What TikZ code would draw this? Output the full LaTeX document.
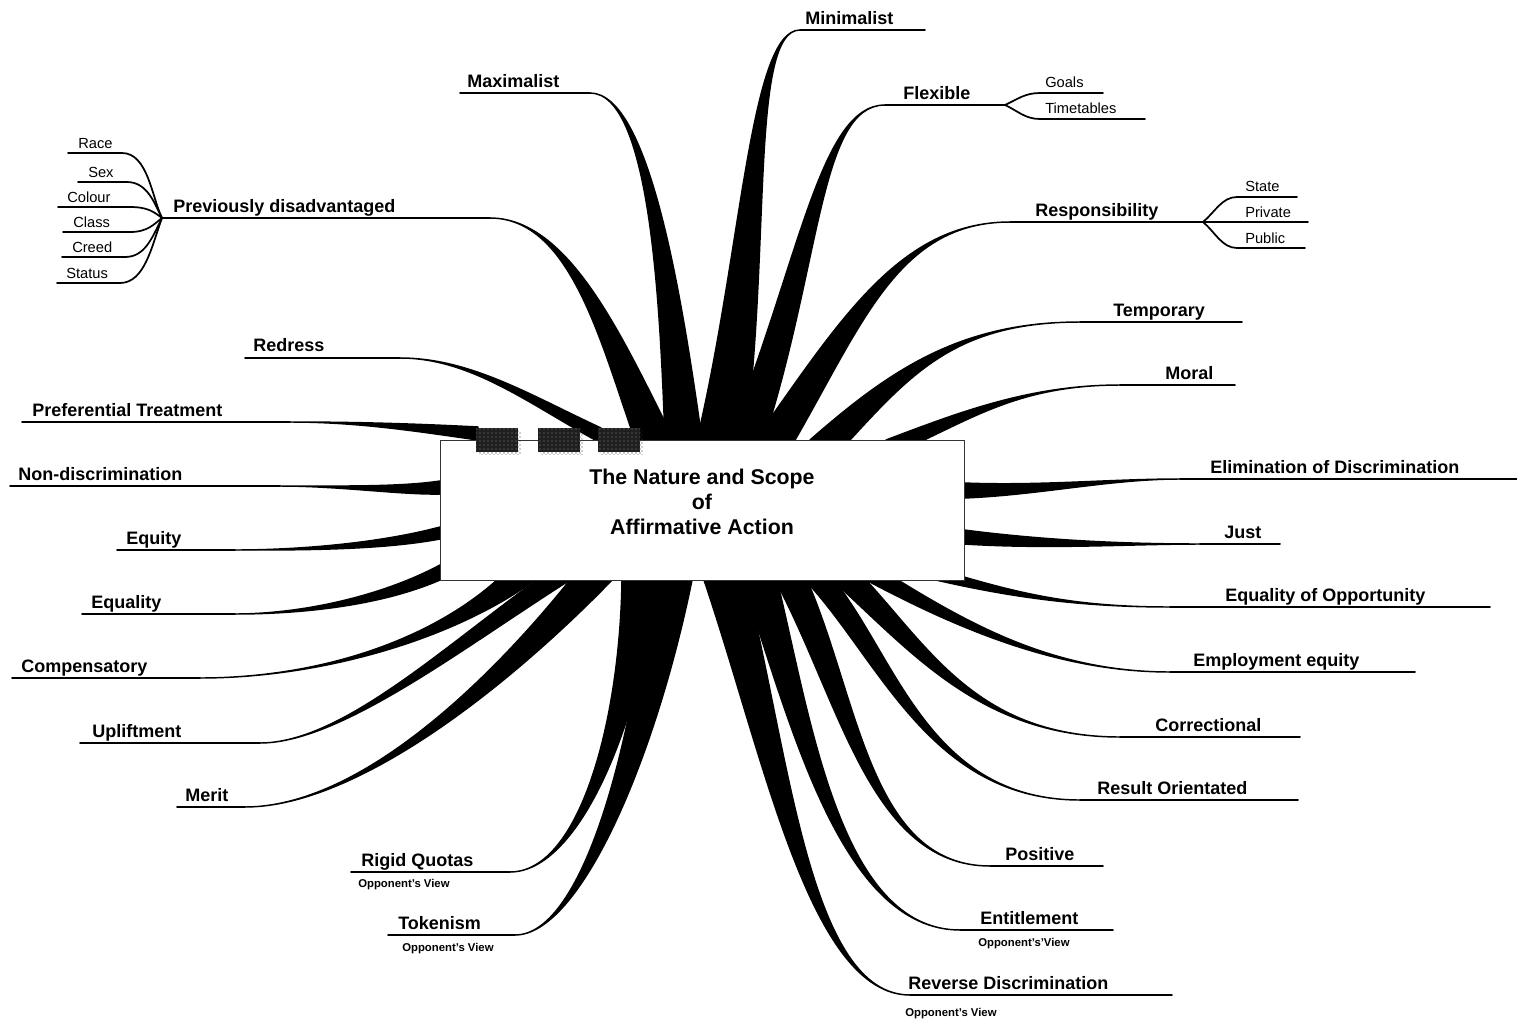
\documentclass[tikz,border=0pt]{standalone}
\usepackage{fontspec}
\setmainfont{Liberation Sans}
\usetikzlibrary{calc,patterns,shadows}

\tikzset{
  limb/.style={fill=black, draw=black, line width=1.1pt, line join=round},
  labelrule/.style={line width=1.4pt, line cap=round},
  twig/.style={line width=1.3pt, line cap=round},
  lab/.style={inner sep=0pt, anchor=base west, font=\bfseries\fontsize{13.5}{16}\selectfont},
  sublab/.style={inner sep=0pt, anchor=base west, font=\fontsize{11}{13}\selectfont},
  note/.style={inner sep=0pt, anchor=base west, font=\bfseries\fontsize{8.5}{10}\selectfont},
  tabbox/.style={fill=black!88, minimum width=31.5pt, minimum height=18pt, inner sep=0pt,
    postaction={pattern=dots, pattern color=black!45},
    drop shadow={shadow xshift=2.2pt, shadow yshift=-2.2pt, opacity=1, fill=none,
      pattern=crosshatch dots, pattern color=black!80}},
}

% tapered branch: name, base point 1, base point 2, control 1, control 2, tip, end of label rule
\newcommand\branch[7]{%
  \coordinate (#1-b1) at #2;
  \coordinate (#1-b2) at #3;
  \coordinate (#1-c1) at #4;
  \coordinate (#1-c2) at #5;
  \coordinate (#1-t) at #6;
  \coordinate (#1-e) at #7;
  \filldraw[limb] (#1-b1) .. controls (#1-c1) and (#1-c2) .. (#1-t)
     .. controls (#1-c2) and ($(#1-c1)+0.6*(#1-b2)-0.6*(#1-b1)$) .. (#1-b2) -- cycle;
  \draw[labelrule] (#1-t) -- (#1-e);
}

\begin{document}
\begin{tikzpicture}[x=0.75pt,y=-0.75pt]
\useasboundingbox (0,0) rectangle (1517,1021);
\fill[white] (0,0) rectangle (1517,1021);

% upper fan
\branch{prev}{(635,440)}{(674,440)}{(600,340)}{(570,218)}{(490,218)}{(162,218)}
\branch{maxi}{(665,440)}{(702,440)}{(660,300)}{(650,93)}{(590,93)}{(460,93)}
\branch{mini}{(697,440)}{(745,440)}{(742,250)}{(750,30)}{(800,30)}{(925,30)}
\branch{flex}{(728,440)}{(764,440)}{(800,260)}{(820,105)}{(885,105)}{(1005,105)}
\branch{resp}{(755,440)}{(795,440)}{(840,320)}{(900,222)}{(1010,222)}{(1203,222)}
\branch{temp}{(810,440)}{(850,440)}{(890,370)}{(960,322)}{(1080,322)}{(1242,322)}
\branch{moral}{(886,440)}{(924,440)}{(960,412)}{(1030,385)}{(1120,385)}{(1235,385)}

% left fan
\branch{redr}{(601,428)}{(597,441)}{(530,395)}{(470,358)}{(400,358)}{(245,358)}
\branch{pref}{(478,427)}{(478,440)}{(420,424)}{(360,422)}{(290,422)}{(22,422)}
\branch{nond}{(440,481)}{(440,494)}{(400,487)}{(340,486)}{(280,486)}{(10,486)}
\branch{eqty}{(440,527)}{(440,539)}{(380,543)}{(300,550)}{(235,550)}{(117,550)}
\branch{eqlt}{(440,565)}{(440,580)}{(380,597)}{(300,614)}{(235,614)}{(82,614)}

% lower left fan
\branch{comp}{(497,580)}{(535,580)}{(430,640)}{(320,678)}{(200,678)}{(12,678)}
\branch{upli}{(537,580)}{(570,580)}{(440,650)}{(340,743)}{(260,743)}{(80,743)}
\branch{meri}{(570,580)}{(612,580)}{(490,680)}{(360,807)}{(245,807)}{(177,807)}
\branch{rigq}{(622,580)}{(657,580)}{(620,720)}{(580,872)}{(510,872)}{(351,872)}
\branch{toke}{(650,580)}{(692,580)}{(630,760)}{(580,935)}{(515,935)}{(388,935)}

% lower right fan
\branch{reve}{(704,580)}{(746,580)}{(765,760)}{(810,995)}{(910,995)}{(1172,995)}
\branch{enti}{(742,580)}{(777,580)}{(790,720)}{(840,930)}{(960,930)}{(1113,930)}
\branch{posi}{(775,580)}{(807,580)}{(840,700)}{(870,866)}{(990,866)}{(1103,866)}
\branch{resu}{(805,580)}{(834,580)}{(880,660)}{(930,800)}{(1080,800)}{(1298,800)}
\branch{corr}{(832,580)}{(866,580)}{(910,650)}{(980,737)}{(1120,737)}{(1300,737)}
\branch{empl}{(866,580)}{(898,580)}{(960,630)}{(1060,672)}{(1170,672)}{(1415,672)}
\branch{eopp}{(936,580)}{(964,577)}{(1010,597)}{(1080,607)}{(1170,607)}{(1490,607)}

% right fan
\branch{elim}{(964,483)}{(964,498)}{(1040,486)}{(1110,479)}{(1180,479)}{(1517,479)}
\branch{just}{(964,530)}{(964,544)}{(1050,541)}{(1130,544)}{(1200,544)}{(1280,544)}

% sub-branches of "Previously disadvantaged"
\coordinate (race) at (68,153);
\coordinate (sex) at (78,182);
\coordinate (colour) at (58,207);
\coordinate (class) at (63,232);
\coordinate (creed) at (62,257);
\coordinate (status) at (57,283);
\draw[twig] (prev-e) .. controls (152,198) and (148,153) .. (122,153) -- (race);
\draw[twig] (prev-e) .. controls (155,205) and (148,182) .. (127,182) -- (sex);
\draw[twig] (prev-e) .. controls (154,212) and (148,207) .. (130,207) -- (colour);
\draw[twig] (prev-e) .. controls (154,224) and (148,232) .. (130,232) -- (class);
\draw[twig] (prev-e) .. controls (152,238) and (145,257) .. (125,257) -- (creed);
\draw[twig] (prev-e) .. controls (152,245) and (145,283) .. (120,283) -- (status);

% sub-branches of "Flexible" and "Responsibility"
\coordinate (goals) at (1103,93);
\coordinate (timet) at (1145,119);
\coordinate (state) at (1297,197);
\coordinate (private) at (1308,222);
\coordinate (public) at (1305,248);
\draw[twig] (flex-e) .. controls (1018,99) and (1025,93) .. (1040,93) -- (goals);
\draw[twig] (flex-e) .. controls (1018,111) and (1025,119) .. (1040,119) -- (timet);
\draw[twig] (resp-e) .. controls (1215,212) and (1222,197) .. (1237,197) -- (state);
\draw[twig] (resp-e) -- (private);
\draw[twig] (resp-e) .. controls (1215,232) and (1222,248) .. (1237,248) -- (public);

% central box
\node (core) [draw=black!80, line width=0.7pt, fill=white, minimum width=393pt,
  minimum height=105pt, inner sep=0pt] at (702,510) {};
\node (title) [align=center, font=\bfseries\fontsize{16}{18.75}\selectfont] at (702,502)
  {The Nature and Scope\\of\\Affirmative Action};
\node (tabA) [tabbox] at (497,440) {};
\node (tabB) [tabbox] at (559,440) {};
\node (tabC) [tabbox] at (619,440) {};

% main labels
\node[lab] (prevL) at (173,212.5) {Previously disadvantaged};
\node[lab] (maxiL) at (467,87.5) {Maximalist};
\node[lab] (miniL) at (805,24.5) {Minimalist};
\node[lab] (flexL) at (903,99.5) {Flexible};
\node[lab] (respL) at (1035,216.5) {Responsibility};
\node[lab] (tempL) at (1113,316.5) {Temporary};
\node[lab] (moraL) at (1165,379.5) {Moral};
\node[lab] (redrL) at (253,351.5) {Redress};
\node[lab] (prefL) at (32,416.5) {Preferential Treatment};
\node[lab] (nondL) at (18,480.5) {Non-discrimination};
\node[lab] (eqtyL) at (126,544.5) {Equity};
\node[lab] (eqltL) at (91,608.5) {Equality};
\node[lab] (compL) at (21,672.5) {Compensatory};
\node[lab] (upliL) at (92,737.5) {Upliftment};
\node[lab] (meriL) at (185,801.5) {Merit};
\node[lab] (rigqL) at (361,866.5) {Rigid Quotas};
\node[lab] (tokeL) at (398,929.5) {Tokenism};
\node[lab] (elimL) at (1210,473.5) {Elimination of Discrimination};
\node[lab] (justL) at (1224,538.5) {Just};
\node[lab] (eoppL) at (1225,601.5) {Equality of Opportunity};
\node[lab] (emplL) at (1193,666.5) {Employment equity};
\node[lab] (corrL) at (1155,731.5) {Correctional};
\node[lab] (resuL) at (1097,794.5) {Result Orientated};
\node[lab] (posiL) at (1005,860.5) {Positive};
\node[lab] (entiL) at (980,924.5) {Entitlement};
\node[lab] (reveL) at (908,989.5) {Reverse Discrimination};

% opponent notes
\node[note] (rigqN) at (358,887) {Opponent's View};
\node[note] (tokeN) at (402,951) {Opponent's View};
\node[note] (entiN) at (978,946) {Opponent's'View};
\node[note] (reveN) at (905,1016) {Opponent's View};

% sub labels
\node[sublab] (raceL) at (78,148) {Race};
\node[sublab] (sexL) at (88,177) {Sex};
\node[sublab] (colourL) at (67,202) {Colour};
\node[sublab] (classL) at (73,227) {Class};
\node[sublab] (creedL) at (72,252) {Creed};
\node[sublab] (statusL) at (66,278) {Status};
\node[sublab] (goalsL) at (1045,87) {Goals};
\node[sublab] (timetL) at (1045,113) {Timetables};
\node[sublab] (stateL) at (1245,191) {State};
\node[sublab] (privateL) at (1245,217) {Private};
\node[sublab] (publicL) at (1245,243) {Public};
\end{tikzpicture}
\end{document}
